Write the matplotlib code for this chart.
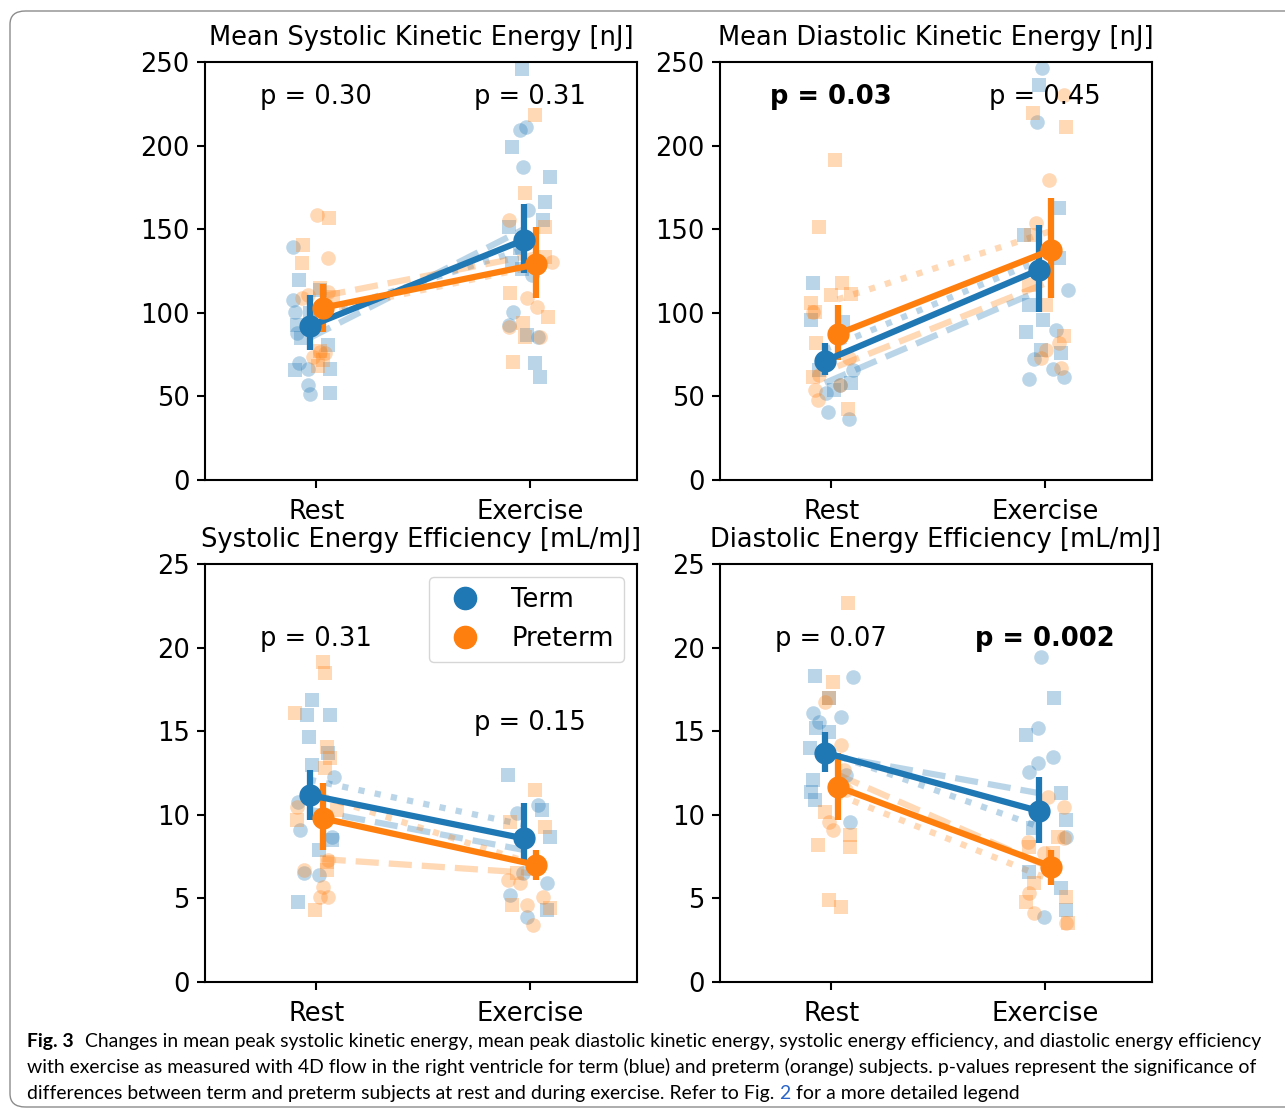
import numpy as np
import matplotlib.pyplot as plt
from matplotlib.patches import FancyBboxPatch
from matplotlib.lines import Line2D

blue = '#1f77b4'
orange = '#ff7f0e'

categories = ['Rest', 'Exercise']
titles = ['Mean Systolic Kinetic Energy [nJ]', 'Mean Diastolic Kinetic Energy [nJ]',
          'Systolic Energy Efficiency [mL/mJ]', 'Diastolic Energy Efficiency [mL/mJ]']

# ---- panel 1: mean systolic kinetic energy
ske_term_mean = [92, 143.5]
ske_term_lo = [77.8, 123.8]
ske_term_hi = [110.6, 165]
ske_pre_mean = [103, 129]
ske_pre_lo = [88.7, 108.8]
ske_pre_hi = [117, 151.5]
ske_term_dash = [85, 150]
ske_term_dot = [97, 138]
ske_pre_dash = [110, 135]
ske_pre_dot = [101, 128]
ske_term_circ_x = [-0.11, -0.11, -0.10, -0.09, -0.08, -0.04, -0.04, -0.03,
                   0.953, 0.981, 0.967, 0.991, 1.009, 0.921, 0.902, 1.037]
ske_term_circ_y = [139.5, 107.7, 100.7, 88, 70, 66.4, 56.8, 51.4,
                   209.3, 211.3, 187.4, 161.5, 122.6, 100.7, 92.7, 85.7]
ske_term_sq_x = [-0.08, -0.09, -0.07, -0.10, 0.065, 0.065, 0.056, 0.019, -0.03,
                 0.963, 0.916, 1.093, 1.070, 0.902, 1.061, 0.953, 0.916, 0.963, 1.023, 1.047, 0.986]
ske_term_sq_y = [119.6, 92.7, 85, 65.8, 66.4, 52, 80.7, 113.6, 100,
                 245.6, 199, 181.4, 166.5, 151.5, 155.5, 138.8, 129.8, 126, 70, 61.8, 86.7]
ske_pre_circ_x = [0.005, 0.056, -0.065, -0.037, 0.056, 0.019, -0.014, 0.042,
                  0.902, 1.103, 0.986, 1.033, 0.902, 1.047]
ske_pre_circ_y = [158.5, 132.8, 108.8, 110.6, 112.4, 76.6, 73.6, 76,
                  155.5, 130.6, 108.7, 103.7, 91.7, 85.7]
ske_pre_sq_x = [0.061, -0.061, -0.065, 0.079, 0.019, 0.033, 0.009, 0.019,
                1.023, 0.977, 1.070, 0.907, 1.084, 0.967, 0.921, 0.977, 1.070]
ske_pre_sq_y = [156.7, 140.5, 129.8, 109.5, 77, 72, 68, 114.8,
                218.3, 171.5, 151.5, 111.8, 97.7, 93.9, 70.8, 85.7, 133.6]
ske_p = ['p = 0.30', 'p = 0.31']
ske_bold = [False, False]

# ---- panel 2: mean diastolic kinetic energy
dke_term_mean = [71.2, 125.6]
dke_term_lo = [62.8, 100.7]
dke_term_hi = [82, 152.5]
dke_pre_mean = [87.3, 137.6]
dke_pre_lo = [71.8, 108.7]
dke_pre_hi = [104.7, 168.5]
dke_term_dash = [58, 113]
dke_term_dot = [78, 131]
dke_pre_dash = [68, 119]
dke_pre_dot = [108, 149]
dke_term_circ_x = [-0.015, 0.085, -0.023, 0.101, 0.039,
                   0.986, 0.961, 1.106, 1.051, 0.950, 1.036, 0.927, 1.090]
dke_term_circ_y = [40.9, 36.3, 51.9, 65.8, 56.8,
                   246.2, 214.3, 113.6, 89.7, 72.2, 66.2, 60.2, 61.8]
dke_term_sq_x = [-0.086, -0.093, 0.055, -0.055, 0.093, 0.015,
                 0.973, 1.067, 0.903, 1.067, 0.927, 0.989, 0.911, 1.075, 0.981]
dke_term_sq_y = [117.6, 95.7, 94.7, 65.8, 57.8, 53.8,
                 236.2, 162.5, 146.5, 132.6, 104.7, 95.7, 88.7, 75.8, 77.8]
dke_pre_circ_x = [-0.086, -0.062, -0.078, 0.085, -0.055, 0.039,
                  1.090, 1.020, 0.958, 1.067, 1.005, 0.981, 1.075]
dke_pre_circ_y = [100.7, 47.8, 53.8, 72.8, 62.8, 56.8,
                  230.3, 179.4, 153.5, 81.8, 77.8, 72.8, 66.8]
dke_pre_sq_x = [0.020, -0.059, 0.051, 0.093, 0.0, -0.093, -0.078, -0.070, -0.086, 0.078,
                0.943, 1.098, 0.935, 1.005, 1.090, 0.927]
dke_pre_sq_y = [191.4, 151.5, 117.6, 111.2, 110.6, 105.7, 100.7, 81.8, 61.8, 42.3,
                219.3, 211.3, 146.5, 104.7, 86.1, 116.6]
dke_p = ['p = 0.03', 'p = 0.45']
dke_bold = [True, False]

# ---- panel 3: systolic energy efficiency
see_term_mean = [11.18, 8.59]
see_term_lo = [9.69, 7.3]
see_term_hi = [12.68, 10.69]
see_pre_mean = [9.79, 7.0]
see_pre_lo = [7.89, 6.1]
see_pre_hi = [11.88, 7.89]
see_term_dash = [10.3, 7.9]
see_term_dot = [12.1, 9.4]
see_pre_dash = [7.35, 6.5]
see_pre_dot = [11.1, 7.0]
see_term_circ_x = [-0.083, -0.075, -0.059, 0.011, 0.081, 0.073,
                   1.039, 0.938, 1.078, 0.907, 0.985, 0.969]
see_term_circ_y = [10.78, 9.09, 6.5, 6.4, 12.28, 8.69,
                   10.59, 10.09, 5.9, 5.2, 3.9, 6.5]
see_term_sq_x = [-0.020, -0.043, 0.065, -0.036, -0.020, 0.057, 0.073, 0.011, -0.083,
                 0.899, 1.055, 1.093, 1.078]
see_term_sq_y = [16.87, 15.97, 15.97, 14.67, 12.98, 13.68, 8.49, 7.89, 4.8,
                 12.38, 10.29, 8.69, 4.31]
see_pre_circ_x = [-0.059, 0.034, 0.019, 0.057, -0.090, 0.056,
                  1.015, 0.985, 1.062, 0.899, 0.953]
see_pre_circ_y = [6.7, 5.7, 5.1, 5.1, 10.48, 7.3,
                  3.41, 4.6, 5.1, 6.1, 5.9]
see_pre_sq_x = [0.031, 0.042, -0.098, 0.050, 0.065, 0.097, -0.090, 0.050, 0.050, -0.005, 0.042,
                1.023, 1.070, 0.907, 0.938, 0.915, 1.093]
see_pre_sq_y = [19.16, 18.46, 16.07, 14.07, 13.38, 10.29, 9.69, 7.2, 6.7, 4.31, 12.78,
                11.48, 9.29, 9.59, 6.5, 4.6, 4.4]
see_p = ['p = 0.31', 'p = 0.15']
see_bold = [False, False]

# ---- panel 4: diastolic energy efficiency
dee_term_mean = [13.72, 10.23]
dee_term_lo = [12.58, 8.3]
dee_term_hi = [14.97, 12.28]
dee_pre_mean = [11.68, 6.9]
dee_pre_lo = [9.69, 5.8]
dee_pre_hi = [13.68, 7.89]
dee_term_dash = [13.6, 11.3]
dee_term_dot = [13.8, 9.3]
dee_pre_dash = [12.4, 6.8]
dee_pre_dot = [11.2, 6.1]
dee_term_circ_x = [0.101, -0.086, -0.055, 0.047, 0.086, 0.070,
                   0.981, 0.966, 1.036, 0.927, 0.966, 1.098, 0.997]
dee_term_circ_y = [18.26, 16.07, 15.57, 15.87, 9.59, 12.38,
                   19.46, 15.17, 13.48, 12.58, 13.08, 8.69, 3.9]
dee_term_sq_x = [-0.078, -0.008, -0.070, -0.008, -0.101, -0.086, -0.093, -0.078,
                 1.043, 0.911, 1.075, 1.098, 0.943, 0.927, 1.098, 1.075]
dee_term_sq_y = [18.3, 16.97, 15.17, 14.97, 13.98, 12.08, 11.38, 10.89,
                 16.97, 14.77, 11.28, 9.69, 9.19, 6.6, 4.3, 5.6]
dee_pre_circ_x = [-0.031, 0.047, 0.070, -0.008, 0.008, 0.062,
                  1.090, 1.012, 0.997, 0.919, 1.090, 0.927, 0.950, 1.098]
dee_pre_circ_y = [16.76, 14.17, 11.48, 9.59, 9.09, 12.68,
                  10.49, 11.08, 7.7, 8.39, 8.59, 5.3, 4.1, 3.51]
dee_pre_sq_x = [0.078, 0.008, -0.008, -0.031, -0.062, 0.086, 0.086, -0.008, 0.047,
                1.059, 0.927, 0.950, 0.911, 1.098, 1.106, 1.036]
dee_pre_sq_y = [22.65, 17.96, 16.97, 10.19, 8.19, 8.79, 8.09, 4.9, 4.5,
                8.69, 8.09, 5.9, 4.8, 5.1, 3.51, 7.7]
dee_p = ['p = 0.07', 'p = 0.002']
dee_bold = [False, True]

caption_1 = ('Changes in mean peak systolic kinetic energy, mean peak diastolic kinetic energy, '
             'systolic energy efficiency, and diastolic energy efficiency')
caption_2 = ('with exercise as measured with 4D flow in the right ventricle for term (blue) and '
             'preterm (orange) subjects. p-values represent the significance of')
caption_3a = 'differences between term and preterm subjects at rest and during exercise. Refer to Fig. '
caption_3b = '2'
caption_3c = ' for a more detailed legend'

panels = [
    dict(title=titles[0], ymax=250, step=50,
         tm=ske_term_mean, tl=ske_term_lo, th=ske_term_hi,
         pm=ske_pre_mean, pl=ske_pre_lo, ph=ske_pre_hi,
         tdash=ske_term_dash, tdot=ske_term_dot, pdash=ske_pre_dash, pdot=ske_pre_dot,
         tcx=ske_term_circ_x, tcy=ske_term_circ_y, tsx=ske_term_sq_x, tsy=ske_term_sq_y,
         pcx=ske_pre_circ_x, pcy=ske_pre_circ_y, psx=ske_pre_sq_x, psy=ske_pre_sq_y,
         p=ske_p, bold=ske_bold, py=[229, 229]),
    dict(title=titles[1], ymax=250, step=50,
         tm=dke_term_mean, tl=dke_term_lo, th=dke_term_hi,
         pm=dke_pre_mean, pl=dke_pre_lo, ph=dke_pre_hi,
         tdash=dke_term_dash, tdot=dke_term_dot, pdash=dke_pre_dash, pdot=dke_pre_dot,
         tcx=dke_term_circ_x, tcy=dke_term_circ_y, tsx=dke_term_sq_x, tsy=dke_term_sq_y,
         pcx=dke_pre_circ_x, pcy=dke_pre_circ_y, psx=dke_pre_sq_x, psy=dke_pre_sq_y,
         p=dke_p, bold=dke_bold, py=[229, 229]),
    dict(title=titles[2], ymax=25, step=5,
         tm=see_term_mean, tl=see_term_lo, th=see_term_hi,
         pm=see_pre_mean, pl=see_pre_lo, ph=see_pre_hi,
         tdash=see_term_dash, tdot=see_term_dot, pdash=see_pre_dash, pdot=see_pre_dot,
         tcx=see_term_circ_x, tcy=see_term_circ_y, tsx=see_term_sq_x, tsy=see_term_sq_y,
         pcx=see_pre_circ_x, pcy=see_pre_circ_y, psx=see_pre_sq_x, psy=see_pre_sq_y,
         p=see_p, bold=see_bold, py=[20.5, 15.5]),
    dict(title=titles[3], ymax=25, step=5,
         tm=dee_term_mean, tl=dee_term_lo, th=dee_term_hi,
         pm=dee_pre_mean, pl=dee_pre_lo, ph=dee_pre_hi,
         tdash=dee_term_dash, tdot=dee_term_dot, pdash=dee_pre_dash, pdot=dee_pre_dot,
         tcx=dee_term_circ_x, tcy=dee_term_circ_y, tsx=dee_term_sq_x, tsy=dee_term_sq_y,
         pcx=dee_pre_circ_x, pcy=dee_pre_circ_y, psx=dee_pre_sq_x, psy=dee_pre_sq_y,
         p=dee_p, bold=dee_bold, py=[20.5, 20.5]),
]

FS = 18.5
plt.rcParams['font.family'] = 'DejaVu Sans'
plt.rcParams['axes.linewidth'] = 1.5

fig = plt.figure(figsize=(12.85, 11.11), dpi=100)

# rounded frame around the whole figure
frame = FancyBboxPatch((10 / 1285, 4 / 1111), 1.2, 1 - 15 / 1111,
                       boxstyle='round,pad=0,rounding_size=0.012',
                       transform=fig.transFigure, fill=False,
                       edgecolor='#8c8c8c', linewidth=1.0, clip_on=False)
fig.patches.append(frame)

positions = [(205, 62), (720, 62), (205, 564), (720, 564)]
off = 0.03
xs = np.array([0, 1])

for i, (d, (lx, ty)) in enumerate(zip(panels, positions)):
    ax = fig.add_axes([lx / 1285, 1 - (ty + 418) / 1111, 432 / 1285, 418 / 1111])

    # subgroup mean lines
    ax.plot(xs - off, d['tdash'], ls='--', color=blue, alpha=0.3, lw=4.5, zorder=1)
    ax.plot(xs - off, d['tdot'], ls=':', color=blue, alpha=0.3, lw=4.5, zorder=1)
    ax.plot(xs + off, d['pdash'], ls='--', color=orange, alpha=0.3, lw=4.5, zorder=1)
    ax.plot(xs + off, d['pdot'], ls=':', color=orange, alpha=0.3, lw=4.5, zorder=1)

    # individual subjects
    ax.plot(d['tcx'], d['tcy'], 'o', color=blue, alpha=0.3, ms=10.5, mew=0, zorder=2)
    ax.plot(d['tsx'], d['tsy'], 's', color=blue, alpha=0.3, ms=10.5, mew=0, zorder=2)
    ax.plot(d['pcx'], d['pcy'], 'o', color=orange, alpha=0.3, ms=10.5, mew=0, zorder=2)
    ax.plot(d['psx'], d['psy'], 's', color=orange, alpha=0.3, ms=10.5, mew=0, zorder=2)

    # group means with error bars
    for m, lo, hi, col, dx in [(d['tm'], d['tl'], d['th'], blue, -off),
                               (d['pm'], d['pl'], d['ph'], orange, off)]:
        m = np.array(m)
        yerr = [m - np.array(lo), np.array(hi) - m]
        ax.errorbar(xs + dx, m, yerr=yerr, fmt='o-', color=col, ms=15, lw=4.5,
                    elinewidth=4.5, capsize=0, zorder=4)

    for j in range(2):
        ax.text(j, d['py'][j], d['p'][j], ha='center', va='center', fontsize=FS,
                fontweight='bold' if d['bold'][j] else 'normal', zorder=6)

    ax.set_xlim(-0.52, 1.5)
    ax.set_ylim(0, d['ymax'])
    ax.set_xticks([0, 1])
    ax.set_xticklabels(categories)
    ax.set_yticks(np.arange(0, d['ymax'] + 1, d['step']))
    ax.tick_params(labelsize=FS, width=1.5, length=6, pad=5)
    ax.tick_params(axis='x', pad=8)
    ax.set_title(d['title'], fontsize=FS, pad=12)

    if i == 2:
        handles = [Line2D([], [], marker='o', ls='none', color=blue, ms=16),
                   Line2D([], [], marker='o', ls='none', color=orange, ms=16)]
        ax.legend(handles, ['Term', 'Preterm'], loc='upper right', fontsize=FS,
                  borderpad=0.4, handletextpad=0.8, labelspacing=0.5)

# caption, sized so the first line spans the same width as in the figure
cap_font = ['Lato', 'Open Sans']
renderer = fig.canvas.get_renderer()
probe = fig.text(0, 0, caption_1, fontsize=12, family=cap_font)
probe_b = fig.text(0, 0, 'Fig. 3', fontsize=12, family=cap_font, fontweight='bold')
wsum = probe.get_window_extent(renderer).width + probe_b.get_window_extent(renderer).width
probe.remove()
probe_b.remove()
cfs = 12 * (1232 - 11) / wsum

x0 = 27 / 1285
t = fig.text(x0, 1 - 1047 / 1111, 'Fig. 3', fontsize=cfs, family=cap_font,
             fontweight='bold', va='baseline')
w = t.get_window_extent(renderer).width
fig.text(x0 + (w + 11) / 1285, 1 - 1047 / 1111, caption_1, fontsize=cfs,
         family=cap_font, va='baseline')
fig.text(x0, 1 - 1073 / 1111, caption_2, fontsize=cfs, family=cap_font, va='baseline')
t3 = fig.text(x0, 1 - 1099 / 1111, caption_3a, fontsize=cfs, family=cap_font, va='baseline')
w3 = t3.get_window_extent(renderer).width
t4 = fig.text(x0 + w3 / 1285, 1 - 1099 / 1111, caption_3b, fontsize=cfs, family=cap_font,
              va='baseline', color='#2a64c8')
w4 = t4.get_window_extent(renderer).width
fig.text(x0 + (w3 + w4) / 1285, 1 - 1099 / 1111, caption_3c, fontsize=cfs, family=cap_font,
         va='baseline')

fig.savefig('out.png', dpi=100)
